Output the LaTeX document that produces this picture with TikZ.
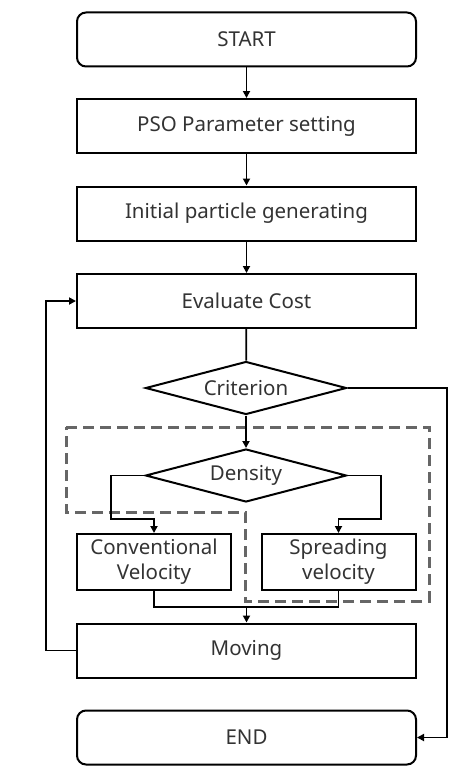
\documentclass[tikz,border=0pt]{standalone}
\usepackage{fontspec}
\setmainfont{Noto Sans}
\usetikzlibrary{arrows.meta,shapes.geometric}
\definecolor{dashgray}{HTML}{666666}
\definecolor{txt}{HTML}{333333}
\begin{document}
\begin{tikzpicture}[x=1pt,y=-1pt,
  every node/.style={font=\fontsize{20.5}{23}\selectfont, text=txt, inner sep=0pt},
  proc/.style={draw=black, line width=2pt, minimum width=339pt, minimum height=54pt},
  term/.style={proc, rounded corners=9pt},
  small/.style={draw=black, line width=2pt, minimum width=154pt, minimum height=56pt, align=center, font=\fontsize{20.5}{25}\selectfont},
  dec/.style={draw=black, line width=2pt, diamond, aspect=3.85, minimum width=201pt, minimum height=53pt},
  conn/.style={line width=1.8pt, -{Triangle[length=7pt,width=7pt]}},
  plain/.style={line width=1.8pt}
]
\useasboundingbox (0,0) rectangle (456,776);
\node[term] (start) at (246.5,39.5) {START};
\node[proc] (pso) at (246.5,126) {PSO Parameter setting};
\node[proc] (init) at (246.5,213.5) {Initial particle generating};
\node[proc] (eval) at (246.5,301) {Evaluate Cost};
\node[dec] (crit) at (246,388) {Criterion};
\node[dec] (dens) at (246,475.5) {Density};
\node[small] (conv) at (154,562) {Conventional\\Velocity};
\node[small] (spread) at (338.5,562) {Spreading\\velocity};
\node[proc] (mov) at (246.5,650.5) {Moving};
\node[term] (end) at (246.5,737.5) {END};

\draw[dashgray, line width=3pt, dash pattern=on 11pt off 6pt]
  (66,427) -- (429,427) -- (429,601) -- (245,601) -- (245,512) -- (66,512) -- cycle;

\draw[conn] (start) -- (pso);
\draw[conn] (pso) -- (init);
\draw[conn] (init) -- (eval);
\draw[plain] (eval) -- (crit);
\draw[conn] (crit) -- (dens);
\draw[conn] (dens.west) -| (111,519) -| (conv.north);
\draw[conn] (dens.east) -| (381,519) -| (spread.north);
\coordinate (j) at (246.5,607);
\draw[plain] (conv.south) |- (j) -| (spread.south);
\draw[conn] (j) -- (mov);
\draw[conn] (crit.east) -| (447,737.5) -- (end.east);
\draw[conn] (mov.west) -| (46,301) -- (eval.west);
\end{tikzpicture}
\end{document}
